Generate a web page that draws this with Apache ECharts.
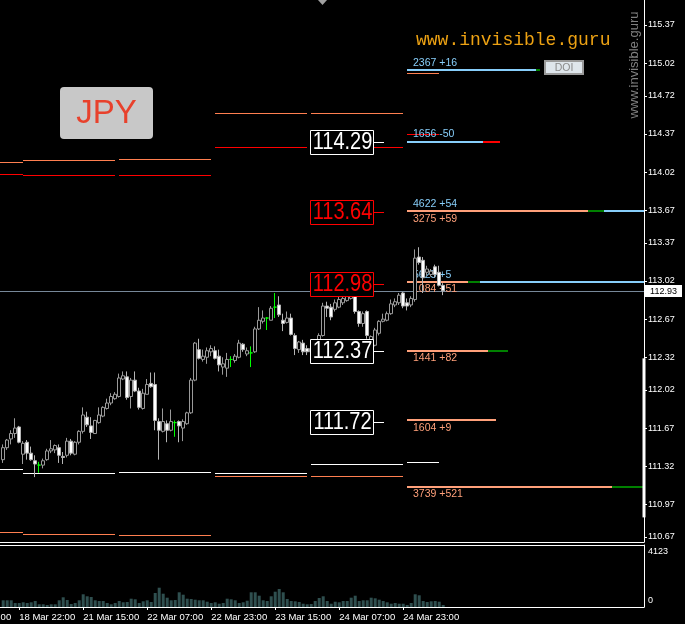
<!DOCTYPE html>
<html><head><meta charset="utf-8">
<script src="https://cdn.jsdelivr.net/npm/echarts@6/dist/echarts.min.js"></script>
<style>html,body{margin:0;padding:0;background:#000;}#c{width:685px;height:624px;}</style>
</head><body><div id="c"></div>
<script>
// ---------------- DATA ----------------
const priceTicks = [110.67,110.97,111.32,111.67,112.02,112.32,112.67,113.02,113.37,113.67,114.02,114.37,114.72,115.02,115.37];
const timeTickIdx = [4,20,36,52,68,84,100];
const timeTickLabels = ['18 Mar 22:00','21 Mar 15:00','22 Mar 07:00','22 Mar 23:00','23 Mar 15:00','24 Mar 07:00','24 Mar 23:00'];
const hiddenTimeIdx = -12;
const hiddenTimeLabel = '18 Mar 06:00';

// hourly candles [open, close, low, high]
const candles = [
[111.38,111.49,111.35,111.52],[111.49,111.56,111.47,111.57],[111.57,111.62,111.52,111.65],[111.62,111.67,111.58,111.76],
[111.68,111.54,111.53,111.69],[111.43,111.53,111.34,111.55],[111.54,111.44,111.38,111.56],[111.44,111.38,111.37,111.50],
[111.37,111.34,111.22,111.42],[111.33,111.33,111.26,111.36],[111.33,111.37,111.30,111.39],[111.38,111.46,111.37,111.48],
[111.46,111.48,111.44,111.56],[111.47,111.51,111.44,111.52],[111.49,111.42,111.35,111.52],[111.41,111.40,111.34,111.45],
[111.42,111.55,111.40,111.58],[111.55,111.44,111.42,111.57],[111.43,111.54,111.42,111.55],[111.54,111.64,111.52,111.65],
[111.64,111.79,111.62,111.86],[111.77,111.70,111.68,111.82],[111.69,111.63,111.57,111.77],[111.62,111.74,111.62,111.745],
[111.72,111.79,111.71,111.86],[111.78,111.86,111.77,111.87],[111.85,111.90,111.84,111.94],[111.90,111.96,111.88,111.99],
[111.94,111.98,111.93,112.00],[111.96,112.13,111.95,112.17],[112.12,112.15,112.11,112.19],[112.14,111.95,111.93,112.19],
[111.96,112.11,111.85,112.13],[112.11,112.01,112.00,112.19],[112.01,111.86,111.84,112.04],[111.85,111.99,111.84,112.03],
[111.98,112.07,111.98,112.12],[112.08,112.05,112.04,112.18],[112.07,111.74,111.65,112.18],[111.73,111.65,111.38,111.76],
[111.64,111.73,111.63,111.85],[111.71,111.65,111.54,111.74],[111.65,111.73,111.64,111.84],[111.72,111.72,111.59,111.74],
[111.73,111.69,111.54,111.74],[111.67,111.73,111.55,111.75],[111.71,111.81,111.70,111.82],[111.81,112.11,111.80,112.13],
[112.11,112.45,112.10,112.46],[112.39,112.31,112.30,112.49],[112.30,112.33,112.28,112.39],[112.32,112.38,112.26,112.41],
[112.37,112.40,112.33,112.43],[112.38,112.31,112.30,112.42],[112.33,112.25,112.19,112.39],[112.23,112.26,112.16,112.32],
[112.22,112.30,112.14,112.36],[112.30,112.30,112.23,112.33],[112.29,112.33,112.27,112.35],[112.32,112.45,112.31,112.48],
[112.44,112.39,112.37,112.45],[112.35,112.38,112.33,112.41],[112.36,112.36,112.23,112.42],[112.37,112.58,112.36,112.60],
[112.58,112.66,112.57,112.78],[112.65,112.68,112.63,112.75],[112.68,112.68,112.57,112.69],[112.66,112.77,112.66,112.79],
[112.78,112.78,112.68,112.91],[112.80,112.71,112.69,112.88],[112.66,112.63,112.56,112.72],[112.64,112.68,112.63,112.74],
[112.68,112.53,112.52,112.72],[112.52,112.40,112.34,112.54],[112.39,112.46,112.36,112.47],[112.45,112.37,112.34,112.48],
[112.40,112.37,112.34,112.43],[112.37,112.40,112.34,112.43],[112.40,112.36,112.33,112.42],[112.36,112.52,112.35,112.54],
[112.52,112.79,112.51,112.82],[112.79,112.77,112.69,112.83],[112.78,112.69,112.66,112.81],[112.76,112.82,112.74,112.85],
[112.78,112.85,112.77,112.88],[112.82,112.86,112.80,112.89],[112.84,112.88,112.83,112.92],[112.86,112.91,112.85,112.94],
[112.91,112.74,112.72,112.92],[112.74,112.63,112.60,112.75],[112.63,112.72,112.60,112.74],[112.74,112.52,112.49,112.75],
[112.45,112.51,112.42,112.52],[112.43,112.57,112.42,112.59],[112.54,112.65,112.52,112.66],[112.65,112.67,112.64,112.72],
[112.66,112.72,112.65,112.74],[112.72,112.81,112.71,112.85],[112.80,112.83,112.78,112.86],[112.82,112.89,112.80,112.91],
[112.91,112.79,112.77,112.92],[112.82,112.79,112.75,112.86],[112.80,112.86,112.78,112.88],[112.85,113.23,112.83,113.31],
[113.24,113.19,113.17,113.33],[113.21,113.05,112.91,113.24],[113.10,113.13,113.07,113.16],[113.08,113.11,113.06,113.13],
[113.15,113.08,113.05,113.17],[113.10,112.98,112.97,113.16],[112.98,112.93,112.89,113.00]
];
const volumes = [
446,446,446,266,266,313,266,313,399,180, 180,133,180,180,446,645,466,200,266,446,
845,712,665,446,399,399,266,180,266,399, 313,333,552,512,266,379,446,333,931,1283,
884,618,446,466,978,818,552,532,485,446, 446,352,266,313,219,266,552,512,446,266,
313,419,978,978,751,446,399,712,1017,1197, 978,532,399,379,333,219,180,200,399,598,
712,399,219,352,313,399,399,618,751,399, 446,446,618,578,485,399,313,219,266,219,
219,133,266,845,778,399,333,379,399,352,133
];
const volumeMax = 4123;
const lastPrice = 112.93;
const rangeBar = [110.85, 112.31];

// daily levels (one entry per day segment)
const dayStart = [-0.8, 4.95, 28.95, 52.95, 76.95, 100.95];
const dayEnd   = [4.95, 27.95, 51.95, 75.95, 99.95, 108.95];
const dayHighA = [114.11, 114.13, 114.14, 114.56, 114.56, 114.93];
const dayHighB = [114.00, 113.99, 113.99, 114.25, 114.25, 114.37];
const dayLowA  = [111.29, 111.26, 111.27, 111.26, 111.34, 111.36];
const dayLowB  = [110.72, 110.70, 110.69, 111.23, 111.23, null];

// open-interest levels
const doiPrice = [114.96, 114.30, 113.66, 113.01, 112.38, 111.74, 111.13];
const doiTopText = ['2367 +16', '1656 -50', '4622 +54', '5625 +5', '', '', ''];
const doiBottomText = ['', '', '3275 +59', '1084 +51', '1441 +82', '1604 +9', '3739 +521'];
const doiStart = 100.95;
// [level, from, to, kind]
const doiBars = [
 [0,100.95,133.2,'b'],[0,133.2,134.2,'g'],
 [1,100.95,119.95,'b'],[1,119.95,124.2,'r'],
 [2,100.95,146.2,'s'],[2,146.2,150.2,'g'],[2,150.2,160.2,'b'],
 [3,100.95,116.2,'s'],[3,116.2,119.2,'g'],[3,119.2,160.2,'b'],
 [4,100.95,121.2,'s'],[4,121.2,126.2,'g'],
 [5,100.95,123.2,'s'],
 [6,100.95,152.2,'s'],[6,152.2,159.95,'g']
];

// boxed price levels
const boxPrices = [114.29, 113.64, 112.98, 112.37, 111.72];

// ---------------- STYLE ----------------
const boxColors = ['#ffffff', '#ff0000', '#ff0000', '#ffffff', '#ffffff'];
const kindColor = {b:'#87cefa', g:'#008000', r:'#ff0000', s:'#ffa07a'};
const X_MIN = -0.8, X_MAX = 160.2, Y_MIN = 110.6242, Y_MAX = 115.5995;
const BOX_X = 84.7;

// build segment list
const segs = []; // [x0,x1,price,color,width]
for (let i = 0; i < dayStart.length; i++) {
  segs.push([dayStart[i], dayEnd[i], dayHighA[i], '#ff7f50', 1]);
  segs.push([dayStart[i], dayEnd[i], dayHighB[i], '#ff0000', 1]);
  segs.push([dayStart[i], dayEnd[i], dayLowA[i], '#ffffff', 1]);
  if (dayLowB[i] != null) segs.push([dayStart[i], dayEnd[i], dayLowB[i], '#ff7f50', 1]);
}
segs.push([X_MIN, X_MAX, lastPrice, '#778899', 1]);
doiBars.forEach(d => segs.push([d[1], d[2], doiPrice[d[0]], kindColor[d[3]], 2]));

const texts = []; // [x, price, text, color, dy]
doiPrice.forEach((p, i) => {
  if (doiTopText[i]) texts.push([doiStart, p, doiTopText[i], '#87cefa', -7]);
  if (doiBottomText[i]) texts.push([doiStart, p, doiBottomText[i], '#ffa07a', 7.5]);
});

const FONT = '"Liberation Sans", Arial, sans-serif';

const chart = echarts.init(document.getElementById('c'), null, {renderer: 'canvas'});
const option = {
  backgroundColor: '#000',
  animation: false,
  grid: [
    {left: 0, right: 41, top: 0, bottom: 82},
    {left: 0, right: 41, top: 545, bottom: 17}
  ],
  xAxis: [
    {type: 'value', gridIndex: 0, min: X_MIN, max: X_MAX, position: 'bottom',
     axisLine: {show: true, onZero: false, lineStyle: {color: '#fff', width: 1}},
     axisTick: {show: false}, axisLabel: {show: false}, splitLine: {show: false}},
    {type: 'value', gridIndex: 1, min: X_MIN, max: X_MAX, position: 'bottom',
     axisLine: {show: true, onZero: false, lineStyle: {color: '#fff', width: 1}},
     axisTick: {show: true, customValues: timeTickIdx, length: 3, lineStyle: {color: '#fff'}},
     axisLabel: {show: true, customValues: timeTickIdx, color: '#fff', fontSize: 9.5, fontFamily: FONT,
       align: 'left', margin: 5, formatter: v => timeTickLabels[timeTickIdx.indexOf(v)] || ''},
     splitLine: {show: false}},
    {type: 'value', gridIndex: 1, min: X_MIN, max: X_MAX, position: 'top',
     axisLine: {show: true, onZero: false, lineStyle: {color: '#fff', width: 1}},
     axisTick: {show: false}, axisLabel: {show: false}, splitLine: {show: false}}
  ],
  yAxis: [
    {type: 'value', gridIndex: 0, position: 'right', min: Y_MIN, max: Y_MAX,
     axisLine: {show: true, onZero: false, lineStyle: {color: '#fff', width: 1}},
     axisTick: {show: true, customValues: priceTicks, length: 3, lineStyle: {color: '#fff'}},
     axisLabel: {show: true, customValues: priceTicks, color: '#fff', fontSize: 9, fontFamily: FONT, margin: 4,
       formatter: v => v.toFixed(2)},
     splitLine: {show: false}},
    {type: 'value', gridIndex: 1, position: 'right', min: 0, max: volumeMax,
     axisLine: {show: true, onZero: false, lineStyle: {color: '#fff', width: 1}},
     axisTick: {show: false},
     axisLabel: {show: true, customValues: [0, volumeMax], color: '#fff', fontSize: 9, fontFamily: FONT, margin: 4,
       formatter: v => v === 0 ? '{b|0}' : '{t|' + v + '}',
       rich: {t: {padding: [14, 0, 0, 0], color: '#fff', fontSize: 9, fontFamily: FONT},
              b: {padding: [0, 0, 12, 0], color: '#fff', fontSize: 9, fontFamily: FONT}}},
     splitLine: {show: false}}
  ],
  series: [
    {
      name: 'levels', type: 'custom', xAxisIndex: 0, yAxisIndex: 0, z: 1, clip: false, silent: true,
      data: segs.map(s => [s[0], s[2]]),
      renderItem: (params, api) => {
        const s = segs[params.dataIndex];
        const p0 = api.coord([s[0], s[2]]);
        const p1 = api.coord([s[1], s[2]]);
        const w = s[4];
        const y = w % 2 ? Math.round(p0[1]) + 0.5 : Math.round(p0[1]);
        return {type: 'line', shape: {x1: Math.round(p0[0]), y1: y, x2: Math.round(p1[0]), y2: y},
                style: {stroke: s[3], lineWidth: w}};
      }
    },
    {
      name: 'levelText', type: 'custom', xAxisIndex: 0, yAxisIndex: 0, z: 1, clip: false, silent: true,
      data: texts.map(t => [t[0], t[1]]),
      renderItem: (params, api) => {
        const t = texts[params.dataIndex];
        const p = api.coord([t[0], t[1]]);
        return {type: 'text', x: p[0] + 6, y: p[1] + t[4],
                style: {text: t[2], fill: t[3], fontSize: 10.5, fontFamily: FONT, align: 'left', verticalAlign: 'middle'}};
      }
    },
    {
      name: 'price', type: 'candlestick', xAxisIndex: 0, yAxisIndex: 0, z: 2,
      data: candles.map((c, i) => [i, c[0], c[1], c[2], c[3]]),
      encode: {x: 0, y: [1, 2, 3, 4]},
      barWidth: 3,
      itemStyle: {color: '#000000', color0: '#ffffff', borderColor: '#9a9a9a', borderColor0: '#b4b4b4',
                  borderColorDoji: '#00ff00', borderWidth: 1}
    },
    {
      name: 'volume', type: 'bar', xAxisIndex: 1, yAxisIndex: 1,
      data: volumes.map((v, i) => [i, v]),
      barWidth: 3, itemStyle: {color: '#2f4f4f'}
    },
    {
      name: 'boxes', type: 'custom', xAxisIndex: 0, yAxisIndex: 0, z: 5, clip: false, silent: true,
      data: boxPrices.map(p => [BOX_X, p]),
      renderItem: (params, api) => {
        const i = params.dataIndex;
        const c = api.coord([BOX_X, boxPrices[i]]);
        const col = boxColors[i];
        const cx = Math.round(c[0]);
        const cy = Math.round(c[1] - 1);
        return {type: 'group', children: [
          {type: 'rect', shape: {x: cx - 31.5, y: cy - 11.5, width: 63, height: 24}, style: {fill: '#000', stroke: col, lineWidth: 1}},
          {type: 'line', shape: {x1: cx + 32, y1: cy + 0.5, x2: cx + 42, y2: cy + 0.5}, style: {stroke: col, lineWidth: 1}},
          {type: 'text', x: cx + 0.5, y: cy + 1, scaleX: 0.87,
           style: {text: boxPrices[i].toFixed(2), fill: col, fontSize: 23, fontFamily: FONT, align: 'center', verticalAlign: 'middle'}}
        ]};
      }
    },
    {
      name: 'axisMarks', type: 'custom', xAxisIndex: 0, yAxisIndex: 0, z: 6, clip: false, silent: true,
      data: [[X_MAX, lastPrice], [X_MAX, rangeBar[0]]],
      renderItem: (params, api) => {
        if (params.dataIndex === 0) {
          const p = api.coord([X_MAX, lastPrice]);
          const y = Math.round(p[1]);
          return {type: 'group', children: [
            {type: 'rect', shape: {x: p[0] + 1, y: y - 6, width: 37, height: 12}, style: {fill: '#fff'}},
            {type: 'text', x: p[0] + 19.5, y: y + 0.5,
             style: {text: lastPrice.toFixed(2), fill: '#000', fontSize: 9, fontFamily: FONT, align: 'center', verticalAlign: 'middle'}}
          ]};
        }
        const a = api.coord([X_MAX, rangeBar[1]]);
        const b = api.coord([X_MAX, rangeBar[0]]);
        return {type: 'rect', shape: {x: a[0] - 1.5, y: a[1], width: 3, height: b[1] - a[1]}, style: {fill: '#fff'}};
      }
    }
  ]
};
chart.setOption(option);

const hx = chart.convertToPixel({xAxisIndex: 1}, hiddenTimeIdx);
chart.setOption({
  graphic: [
    {type: 'text', x: hx, y: 612, style: {text: hiddenTimeLabel, fill: '#fff', fontSize: 9.5, fontFamily: FONT, align: 'left', verticalAlign: 'top'}},
    {type: 'polygon', shape: {points: [[318, 0], [327, 0], [322.5, 5]]}, style: {fill: '#a0a0a0'}},
    {type: 'text', x: 416, y: 40, style: {text: 'www.invisible.guru', fill: '#eda213', fontSize: 18, fontFamily: '"Liberation Mono", "Courier New", monospace', align: 'left', verticalAlign: 'middle'}},
    {type: 'text', x: 634.5, y: 65, rotation: Math.PI / 2, style: {text: 'www.invisible.guru', fill: '#808080', fontSize: 13, fontFamily: FONT, align: 'center', verticalAlign: 'middle'}},
    {type: 'rect', shape: {x: 60, y: 87, width: 93, height: 52, r: 4}, style: {fill: '#c8c8c8'}},
    {type: 'text', x: 106.5, y: 113.5, style: {text: 'JPY', fill: '#e8412c', fontSize: 33, fontFamily: FONT, align: 'center', verticalAlign: 'middle'}},
    {type: 'rect', shape: {x: 545, y: 61, width: 38, height: 13}, style: {fill: '#dfe6ec', stroke: '#9a9a9a', lineWidth: 2}},
    {type: 'text', x: 564, y: 68, style: {text: 'DOI', fill: '#8a8a8a', fontSize: 10.5, fontFamily: FONT, align: 'center', verticalAlign: 'middle'}}
  ]
});
</script>
</body></html>
